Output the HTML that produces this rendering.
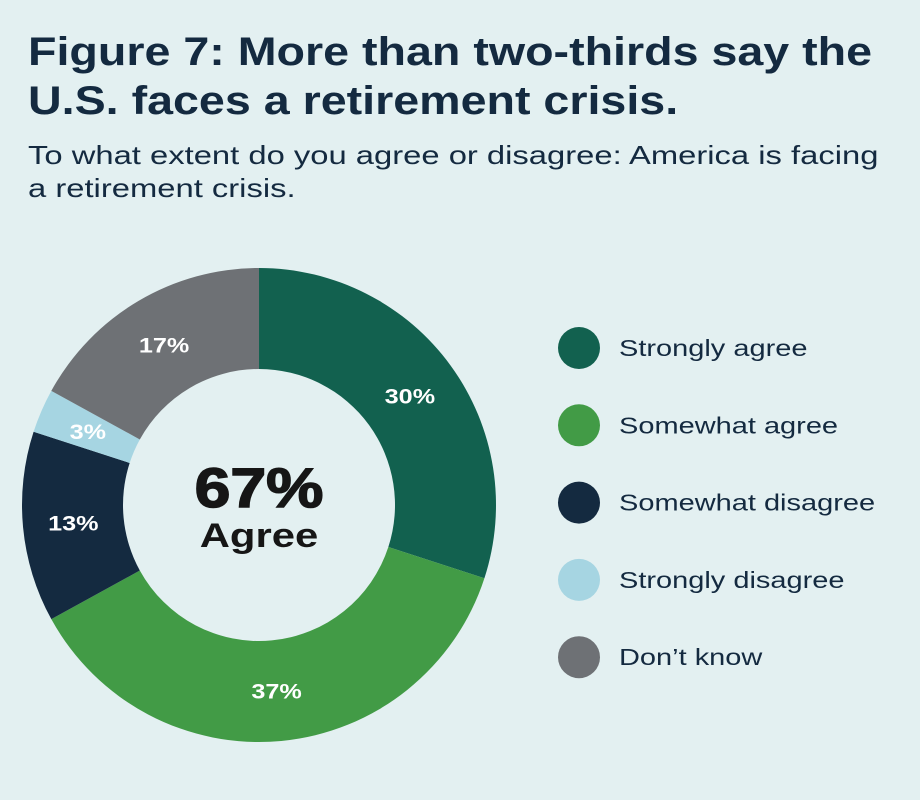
<!DOCTYPE html>
<html><head><meta charset="utf-8"><style>
body{margin:0;width:920px;height:800px;background:#e3f0f1;font-family:"Liberation Sans",sans-serif;overflow:hidden;position:relative}
#t{position:absolute;left:28px;top:28px;font-size:40px;font-weight:bold;color:#142a40;line-height:49px;margin:0;transform:scaleX(1.165);transform-origin:0 0;white-space:nowrap}
#s{position:absolute;left:28px;top:139px;font-size:26px;color:#142a40;line-height:33px;margin:0;transform:scaleX(1.26);transform-origin:0 0;white-space:nowrap}
svg{position:absolute;left:0;top:0}
</style></head><body>
<h1 id="t">Figure 7: More than two-thirds say the<br>U.S. faces a retirement crisis.</h1>
<p id="s">To what extent do you agree or disagree: America is facing<br>a retirement crisis.</p>
<svg id="c" width="920" height="800"></svg>
<script>
const categories=["Strongly agree","Somewhat agree","Somewhat disagree","Strongly disagree","Don’t know"];
const values=[30,37,13,3,17];
const colors=["#12614f","#429b46","#142a40","#a6d5e2","#6e7175"];
const ns="http://www.w3.org/2000/svg",svg=document.getElementById('c');
const cx=259,cy=505,R=237,r=136,total=values.reduce((a,b)=>a+b,0);
function pt(a,rad){return [cx+rad*Math.sin(a),cy-rad*Math.cos(a)];}
let acc=0;
values.forEach((v,i)=>{
 const a0=acc/total*2*Math.PI,a1=(acc+v)/total*2*Math.PI;acc+=v;
 const [x0,y0]=pt(a0,R),[x1,y1]=pt(a1,R),[x2,y2]=pt(a1,r),[x3,y3]=pt(a0,r);
 const lg=a1-a0>Math.PI?1:0;
 const p=document.createElementNS(ns,'path');
 p.setAttribute('d',`M${x0},${y0}A${R},${R} 0 ${lg} 1 ${x1},${y1}L${x2},${y2}A${r},${r} 0 ${lg} 0 ${x3},${y3}Z`);
 p.setAttribute('fill',colors[i]);
 
 
 svg.appendChild(p);
 const [lx,ly]=pt((a0+a1)/2,(R+r)/2);
 const t=document.createElementNS(ns,'text');
 t.setAttribute('transform',`translate(${lx},${ly+8}) scale(1.2,1)`);
 t.setAttribute('text-anchor','middle');
 t.setAttribute('fill','#fff');t.setAttribute('font-size','21');t.setAttribute('font-weight','bold');
 
 
 t.textContent=v+'%';svg.appendChild(t);
 const c=document.createElementNS(ns,'circle');
 c.setAttribute('cx',579);c.setAttribute('cy',348+i*77.3);c.setAttribute('r',21);c.setAttribute('fill',colors[i]);
 
 
 svg.appendChild(c);
 const lt=document.createElementNS(ns,'text');
 lt.setAttribute('transform',`translate(619,${356+i*77.3}) scale(1.26,1)`);
 lt.setAttribute('fill','#142a40');lt.setAttribute('font-size','23');
 
 
 lt.textContent=categories[i];svg.appendChild(lt);
});
const agree=values[0]+values[1];
const m=document.createElementNS(ns,'text');
m.setAttribute('transform',`translate(${cx},507) scale(1.15,1)`);
m.setAttribute('text-anchor','middle');m.setAttribute('font-size','56');m.setAttribute('font-weight','bold');m.setAttribute('fill','#161616');
m.setAttribute('stroke','#161616');m.setAttribute('stroke-width','1.5');


m.textContent=agree+'%';svg.appendChild(m);
const m2=document.createElementNS(ns,'text');
m2.setAttribute('transform',`translate(${cx},547) scale(1.23,1)`);
m2.setAttribute('text-anchor','middle');m2.setAttribute('font-size','34');m2.setAttribute('font-weight','bold');m2.setAttribute('fill','#161616');


m2.textContent='Agree';svg.appendChild(m2);
</script>
</body></html>
